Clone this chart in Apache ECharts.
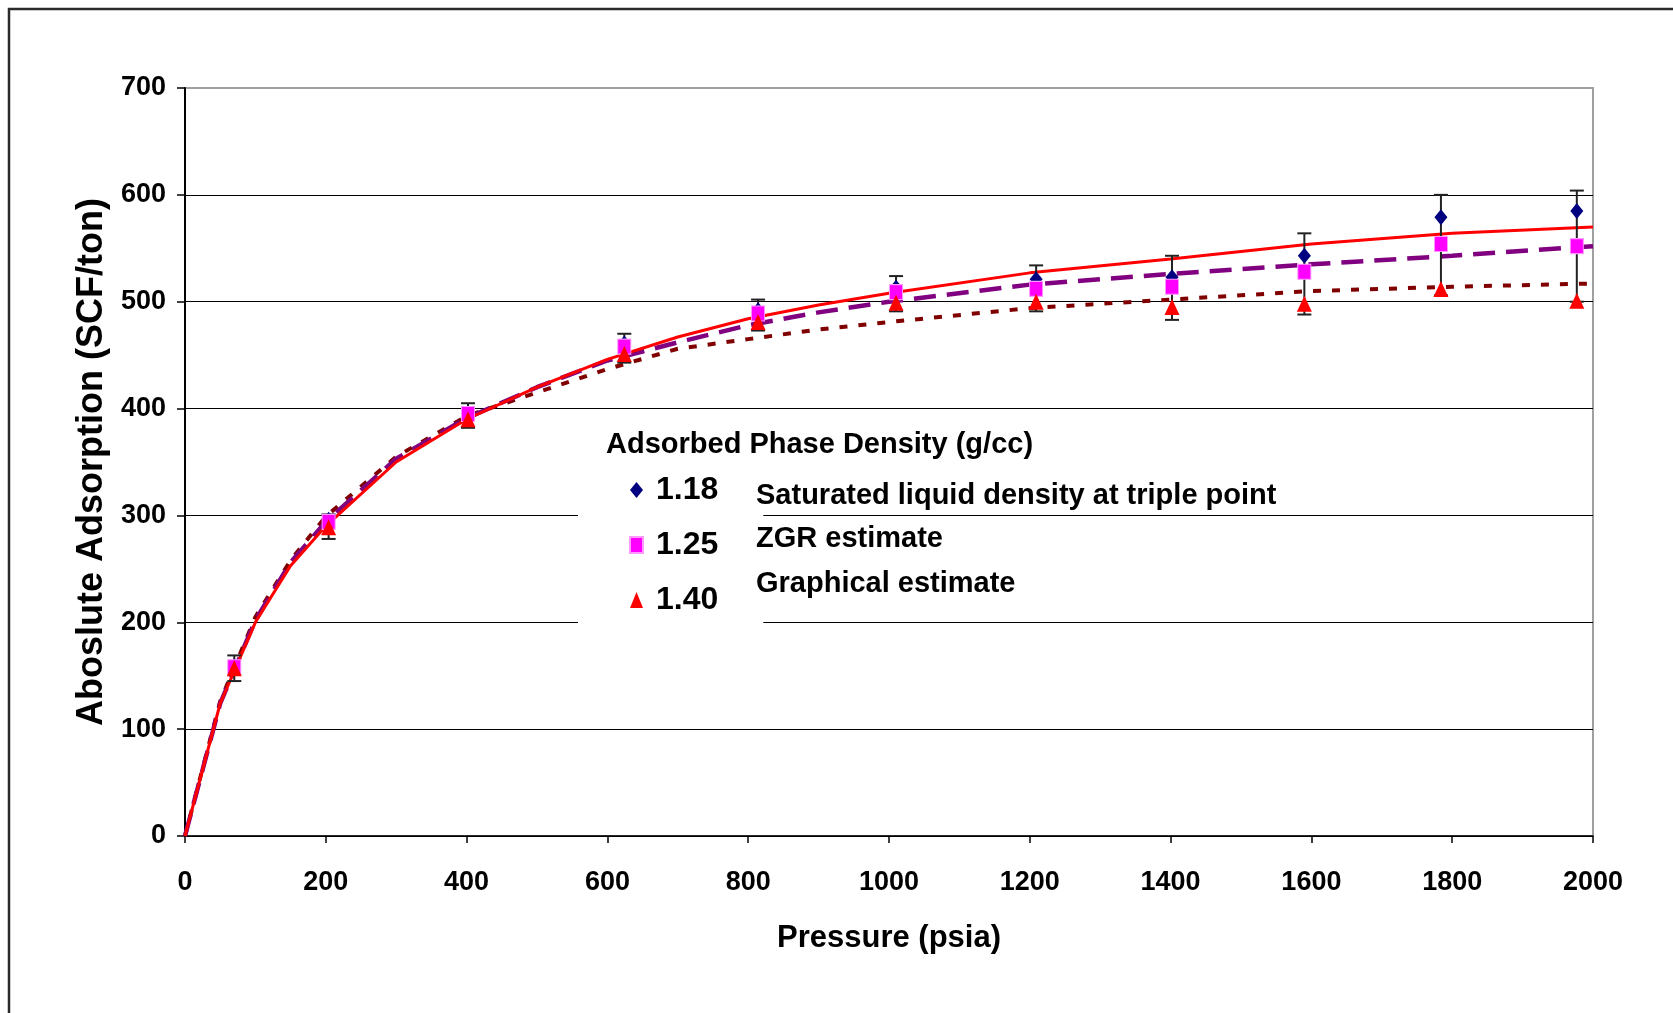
<!DOCTYPE html>
<html>
<head>
<meta charset="utf-8">
<title>Absolute Adsorption</title>
<script src="https://cdn.jsdelivr.net/npm/echarts@6/dist/echarts.min.js"></script>
<style>
    html, body { margin: 0; padding: 0; background: #fff; }
    #main { width: 1673px; height: 1013px; }
</style>
</head>
<body>
<div id="main"></div>
<script>
// measured points, one entry per pressure step
var pressure = [70, 204, 402, 624, 814, 1010, 1209, 1402, 1590, 1784, 1977];
var dens118 = [159, 296, 396, 461, 492, 513, 521, 523, 543, 579, 585];
var dens125 = [158, 294, 395, 458, 489, 509, 512, 514, 528, 554, 552];
var dens140 = [157, 289, 390, 451, 481, 499, 500, 495, 498, 512, 501];
var errLow = [145, 278, 382, 443, 473, 491, 491, 483, 488, 506, 500];
var errHigh = [169, 301, 405, 470, 502, 524, 534, 543, 564, 600, 604];

// fitted curves
var curveP = [0, 50, 100, 150, 200, 300, 400, 500, 600, 700, 800, 900, 1000, 1200, 1400, 1600, 1800, 2000];
var fitSolid = [0, 124, 200, 253, 290, 350, 390, 420, 446, 467, 484, 497, 508, 527, 540, 554, 564, 570];
var fitDashed = [0, 124, 202, 256, 294, 353, 391, 420, 445, 462, 478, 490, 500, 516, 526, 535, 543, 552];
var fitDotted = [0, 126, 205, 258, 299, 355, 393, 415, 437, 456, 465, 474, 481, 494, 502, 510, 514, 517];

var legendNames = ['1.18', '1.25', '1.40'];
var legendNotes = ['Saturated liquid density at triple point', 'ZGR estimate', 'Graphical estimate'];
var yTicks = [0, 100, 200, 300, 400, 500, 600, 700];

(function () {
    var FONT = '"Liberation Sans", Arial, sans-serif';

    var chart = {
        init() {
            this.myChart = echarts.init(document.getElementById('main'));
            this.myChart.setOption(this.getOption());
        },
        pairs(xs, ys) {
            return xs.map(function (x, i) { return [x, ys[i]]; });
        },
        renderErr(params, api) {   // vertical bar with caps
            var x = api.value(0);
            var lo = api.coord([x, api.value(1)]);
            var hi = api.coord([x, api.value(2)]);
            var half = 7;
            var st = { stroke: '#222', lineWidth: 2 };
            return {
                type: 'group',
                children: [
                    { type: 'line', shape: { x1: lo[0], y1: lo[1], x2: hi[0], y2: hi[1] }, style: st },
                    { type: 'line', shape: { x1: hi[0] - half, y1: hi[1], x2: hi[0] + half, y2: hi[1] }, style: st },
                    { type: 'line', shape: { x1: lo[0] - half, y1: lo[1], x2: lo[0] + half, y2: lo[1] }, style: st }
                ]
            };
        },
        lineSeries(data, color, width, dash) {
            return {
                type: 'line',
                data: this.pairs(curveP, data),
                showSymbol: false,
                symbol: 'none',
                smooth: false,
                z: 2,
                lineStyle: { color: color, width: width, type: dash },
                silent: true
            };
        },
        scatterSeries(name, data, color, symbol, size, border) {
            return {
                name: name,
                type: 'scatter',
                data: this.pairs(pressure, data),
                symbol: symbol,
                symbolSize: size,
                z: 5,
                itemStyle: { color: color, opacity: 1, borderColor: border || color, borderWidth: border ? 1 : 0 }
            };
        },
        getOption() {
            var errData = pressure.map(function (p, i) { return [p, errLow[i], errHigh[i]]; });
            var gridColors = yTicks.map(function (t, i) { return i === yTicks.length - 1 ? '#a0a0a0' : '#000'; });
            var notesY = [496, 539, 584];
            var plain = function (v) { return String(v); };
            var graphics = [
                {
                    type: 'rect',
                    shape: { x: 9, y: 9, width: 1720, height: 1100 },
                    style: { fill: 'none', stroke: '#2b2b2b', lineWidth: 2.5 },
                    silent: true
                },
                {
                    type: 'text',
                    z: 100,
                    style: {
                        text: 'Adsorbed Phase Density (g/cc)',
                        x: 606, y: 445,
                        font: 'bold 29px ' + FONT,
                        fill: '#000',
                        verticalAlign: 'middle'
                    }
                }
            ];
            legendNotes.forEach(function (t, i) {
                graphics.push({
                    type: 'text',
                    z: 100,
                    style: {
                        text: t, x: 756, y: notesY[i],
                        font: 'bold 29px ' + FONT,
                        fill: '#000',
                        verticalAlign: 'middle'
                    }
                });
            });

            return {
                animation: false,
                backgroundColor: '#fff',
                textStyle: { fontFamily: FONT },
                grid: {
                    left: 185, top: 88, right: 80, bottom: 177,
                    containLabel: false,
                    show: true,
                    borderColor: '#a0a0a0',
                    borderWidth: 2,
                    backgroundColor: 'transparent'
                },
                legend: {
                    orient: 'vertical',
                    left: 578,
                    top: 463,
                    padding: [10, 45, 14, 51],
                    itemGap: 21,
                    itemWidth: 13,
                    itemHeight: 16,
                    backgroundColor: '#fff',
                    selectedMode: false,
                    data: [
                        { name: legendNames[0], icon: 'diamond' },
                        { name: legendNames[1], icon: 'rect' },
                        { name: legendNames[2], icon: 'triangle' }
                    ],
                    textStyle: {
                        fontSize: 32, fontWeight: 'bold', color: '#000', fontFamily: FONT,
                        lineHeight: 34, padding: [0, 0, 0, 8]
                    }
                },
                xAxis: {
                    type: 'value',
                    min: 0, max: 2000, interval: 200,
                    name: 'Pressure (psia)',
                    nameLocation: 'middle',
                    nameGap: 87,
                    nameTextStyle: { fontSize: 31, fontWeight: 'bold', color: '#000', fontFamily: FONT },
                    axisLine: { lineStyle: { color: '#000', width: 1.5 } },
                    axisTick: { show: true, length: 7, lineStyle: { color: '#000', width: 1.5 } },
                    axisLabel: { fontSize: 27, fontWeight: 'bold', color: '#000', margin: 33, fontFamily: FONT, formatter: plain },
                    splitLine: { show: false }
                },
                yAxis: {
                    type: 'value',
                    min: 0, max: 700, interval: 100,
                    name: 'Aboslute Adsorption (SCF/ton)',
                    nameLocation: 'middle',
                    nameGap: 72,
                    nameTextStyle: { fontSize: 36, fontWeight: 'bold', color: '#000', fontFamily: FONT },
                    axisLine: { show: true, lineStyle: { color: '#000', width: 2 } },
                    axisTick: { show: true, length: 8, lineStyle: { color: '#000', width: 1.5 } },
                    axisLabel: { fontSize: 27, fontWeight: 'bold', color: '#000', margin: 19, fontFamily: FONT, formatter: plain },
                    splitLine: { show: true, lineStyle: { color: gridColors, width: 1 } }
                },
                graphic: graphics,
                series: [
                    this.lineSeries(fitDotted, '#800000', 4, [8, 11]),
                    this.lineSeries(fitDashed, '#800080', 4.5, [22, 11]),
                    this.lineSeries(fitSolid, '#ff0000', 3, 'solid'),
                    {
                        type: 'custom',
                        data: errData,
                        encode: { x: 0, y: [1, 2] },
                        renderItem: this.renderErr,
                        z: 4,
                        silent: true
                    },
                    this.scatterSeries(legendNames[0], dens118, '#000080', 'diamond', [13, 16]),
                    this.scatterSeries(legendNames[1], dens125, '#ff00ff', 'rect', [13, 15], '#ff99ff'),
                    this.scatterSeries(legendNames[2], dens140, '#ff0000', 'triangle', [15, 16])
                ]
            };
        }
    };

    chart.init();
})();
</script>
</body>
</html>
